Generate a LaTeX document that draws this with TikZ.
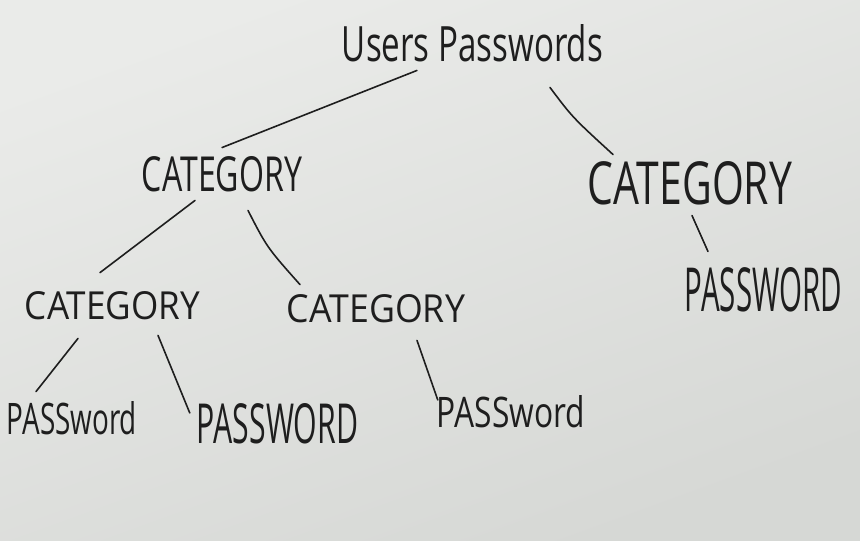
\documentclass[tikz,border=0pt]{standalone}
\usepackage{fontspec}
\setmainfont{Open Sans}
\usetikzlibrary{calc}
\definecolor{paperhi}{RGB}{234,235,233}
\definecolor{paperlo}{RGB}{214,216,213}
\definecolor{ink}{RGB}{30,30,30}
\newcommand{\hw}[3]{\resizebox{#1pt}{#2pt}{#3}}
\begin{document}
\begin{tikzpicture}[x=1pt,y=-1pt,
  lbl/.style={inner sep=0pt, text=ink},
  edge/.style={draw=ink, line width=1.6pt, line cap=round}]
\useasboundingbox (0,0) rectangle (860,541);
\shade[top color=paperhi, bottom color=paperlo, shading angle=20] (0,0) rectangle (860,541);
% nodes
\node[lbl] (root) at (472.5,43.5) {\hw{261}{37}{Users Passwords}};
\node[lbl] (lc) at (222,174.5) {\hw{160}{35}{CATEGORY}};
\node[lbl] (rc) at (690,183.5) {\hw{204}{43}{CATEGORY}};
\node[lbl] (rpw) at (763.5,290) {\hw{157}{44}{PASSWORD}};
\node[lbl] (ll) at (112.5,306) {\hw{175}{28}{CATEGORY}};
\node[lbl] (lr) at (376,309) {\hw{178}{28}{CATEGORY}};
\node[lbl] (leafa) at (72,418.5) {\hw{130}{33}{PASSword}};
\node[lbl] (leafb) at (277.5,423.5) {\hw{161}{40}{PASSWORD}};
\node[lbl] (leafc) at (511,412) {\hw{148}{32}{PASSword}};
% connectors
\draw[edge] ($(root.south)+(-55.5,8)$) -- ($(lc.north)+(0,-9)$);
\draw[edge] ($(root.south)+(77.5,25)$) .. controls ($(root.south)+(100,55)$) .. ($(rc.north)+(-77,-7)$);
\draw[edge] ($(rc.south)+(2,10)$) -- ($(rpw.north)+(-55.5,-16)$);
\draw[edge] ($(lc.south)+(-27,8)$) -- ($(ll.north)+(-12.5,-19)$);
\draw[edge] ($(lc.south)+(26,18)$) .. controls ($(lc.south)+(45,55)$) .. ($(lr.north)+(-76,-10)$);
\draw[edge] ($(ll.south)+(-34.5,18)$) -- ($(leafa.north)+(-36,-10)$);
\draw[edge] ($(ll.south)+(45.5,15)$) -- ($(leafb.west)+(-7,-10.5)$);
\draw[edge] ($(lr.south)+(41,17)$) -- ($(leafc.west)+(1,-12)$);
\end{tikzpicture}
\end{document}
